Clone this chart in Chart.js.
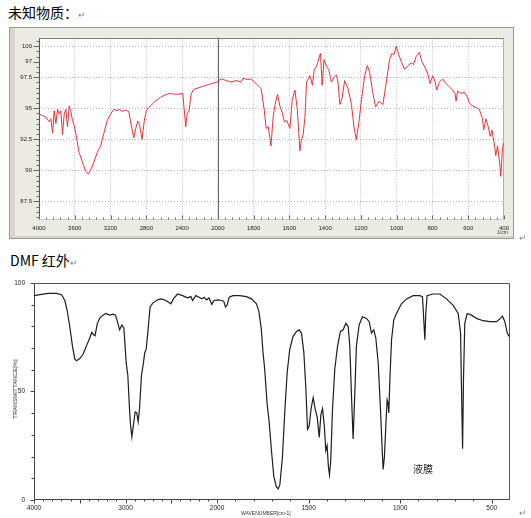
<!DOCTYPE html>
<html lang="zh">
<head>
<meta charset="UTF-8">
<script src="https://cdn.jsdelivr.net/npm/chart.js"></script>
<style>
    body {
        margin: 0;
        width: 531px;
        height: 518px;
        position: relative;
        background: #fff;
        overflow: hidden;
        font-family: "Noto Sans CJK SC", "Liberation Sans", sans-serif;
    }
    .abs { position: absolute; }
    .cap { font-size: 14px; color: #000; white-space: nowrap; line-height: 1; }
    .ret { color: #888; font-size: 9px; }
    .frame {
        left: 9px; top: 27px; width: 505px; height: 212px;
        box-sizing: border-box;
        border: 1px solid #9a9a9a;
        background: #ecebe3;
        box-shadow: inset 5px 0 0 #d7d4cb, inset 0 -2px 0 #d7d4cb;
    }
    .tiny { font-family: "Liberation Sans", sans-serif; font-size: 5px; color: #333; white-space: nowrap; line-height: 1; }
</style>
</head>
<body>
<div class="abs cap" style="left:8px; top:5px;">未知物质：<span class="ret">↵</span></div>
<div class="abs frame"></div>
<canvas id="topChart" class="abs" width="505" height="212" style="left:9px; top:27px;"></canvas>
<div class="abs tiny" style="left:497px; top:230px;">1/cm</div>
<div class="abs ret" style="left:519px; top:231px;">↵</div>

<div class="abs cap" style="left:10px; top:253px;">DMF 红外<span class="ret">↵</span></div>
<canvas id="dmfChart" class="abs" width="531" height="248" style="left:0; top:270px;"></canvas>
<div class="abs tiny" style="left:15px; top:389px; font-size:6px; transform: translate(-50%, -50%) rotate(-90deg);">TRANSMITTANCE[%]</div>
<div class="abs tiny" style="left:241px; top:511px;">WAVENUMBER[cm-1]</div>
<div class="abs" style="left:413px; top:461px; font-size:10px; color:#222;">液膜</div>
<div class="abs ret" style="left:519px; top:506px;">↵</div>

<script>
// ---- unknown sample (red trace) ----
const topWavenumbers = [
    4000, 3959, 3922, 3885, 3867, 3848, 3830, 3811, 3793, 3774,
    3756, 3737, 3718, 3700, 3681, 3663, 3644, 3626, 3607, 3589,
    3570, 3552, 3515, 3478, 3448, 3422, 3385, 3348, 3311, 3274,
    3237, 3200, 3163, 3126, 3107, 3070, 3033, 2996, 2978, 2941,
    2922, 2896, 2874, 2848, 2822, 2800, 2774, 2737, 2700, 2644,
    2589, 2533, 2496, 2441, 2392, 2378, 2359, 2344, 2322, 2300,
    2274, 2218, 2163, 2107, 2033, 2000, 1981, 1953, 1925, 1898,
    1870, 1860, 1832, 1814, 1795, 1777, 1758, 1740, 1730, 1718,
    1703, 1690, 1680, 1666, 1653, 1640, 1628, 1615, 1597, 1584,
    1569, 1556, 1541, 1532, 1523, 1513, 1504, 1485, 1471, 1461,
    1448, 1435, 1426, 1417, 1406, 1393, 1380, 1365, 1350, 1337,
    1328, 1318, 1305, 1291, 1272, 1253, 1239, 1226, 1212, 1198,
    1179, 1164, 1151, 1133, 1118, 1099, 1077, 1058, 1040, 1027,
    1016, 1003, 988, 975, 956, 938, 919, 906, 891, 873,
    860, 841, 826, 813, 798, 785, 776, 761, 743, 724,
    706, 687, 674, 668, 659, 641, 622, 607, 594, 576,
    557, 538, 520, 514, 501, 488, 477, 468, 455, 446,
    436, 423, 418, 408, 403
];
const topTransmittance = [
    94.54, 94.41, 94.28, 93.90, 94.15, 93.00, 94.80, 93.77, 94.93, 94.54,
    94.80, 92.87, 94.54, 94.93, 93.51, 95.18, 94.80, 94.03, 93.64, 93.00,
    92.22, 91.45, 90.68, 89.91, 89.70, 90.04, 90.68, 91.45, 91.97, 93.00,
    94.03, 94.54, 94.93, 94.80, 94.93, 94.75, 94.85, 94.75, 94.03, 92.61,
    93.25, 93.97, 93.64, 92.48, 94.03, 94.80, 95.06, 95.31, 95.57, 95.88,
    96.09, 96.21, 96.14, 96.14, 96.19, 95.06, 93.51, 94.54, 94.80, 96.09,
    96.52, 96.65, 96.78, 96.91, 97.06, 97.17, 97.37, 97.24, 97.11, 97.24,
    97.11, 97.42, 97.32, 97.37, 97.11, 96.86, 96.60, 94.80, 93.38, 93.51,
    91.97, 94.41, 95.31, 96.14, 95.18, 94.67, 93.90, 94.03, 93.38, 95.70,
    96.47, 94.93, 91.58, 92.48, 92.87, 94.28, 97.11, 97.63, 96.86, 98.14,
    98.40, 99.05, 99.43, 96.86, 98.92, 98.40, 98.14, 97.11, 97.50, 97.68,
    97.11, 95.31, 95.83, 97.24, 96.60, 95.31, 93.51, 92.48, 93.77, 95.57,
    97.63, 98.45, 97.89, 96.21, 95.11, 95.57, 95.31, 97.11, 98.92, 99.43,
    99.30, 100.00, 99.30, 98.79, 98.14, 98.40, 98.66, 98.53, 99.17, 99.51,
    98.79, 98.27, 97.76, 96.99, 97.63, 97.11, 96.47, 97.11, 97.37, 96.99,
    96.73, 96.47, 96.21, 95.57, 96.39, 96.21, 96.29, 95.96, 95.44, 95.18,
    95.06, 94.93, 94.15, 93.25, 94.15, 93.51, 92.74, 93.25, 92.22, 91.19,
    91.97, 90.42, 89.52, 91.84, 92.22
];
const topXTicks = [4000, 3600, 3200, 2800, 2400, 2000, 1800, 1600, 1400, 1200, 1000, 800, 600, 400];
const topYTicks = [100, 98.75, 97.5, 95, 92.5, 90, 87.5];
const topYLabels = ['100', '97', '97.5', '95', '92.5', '90', '87.5'];

// ---- DMF (black trace) ----
const dmfWavenumbers = [
    4000, 3935, 3844, 3754, 3699, 3663, 3638, 3609, 3580, 3554,
    3536, 3500, 3464, 3428, 3391, 3370, 3348, 3333, 3308, 3283,
    3246, 3217, 3174, 3138, 3109, 3083, 3065, 3040, 3018, 2993,
    2975, 2957, 2946, 2931, 2913, 2895, 2877, 2862, 2848, 2826,
    2804, 2790, 2775, 2754, 2732, 2703, 2649, 2612, 2558, 2504,
    2478, 2431, 2377, 2323, 2286, 2268, 2232, 2196, 2167, 2141,
    2116, 2087, 2058, 2033, 1995, 1976, 1964, 1954, 1945, 1934,
    1913, 1876, 1840, 1812, 1785, 1771, 1758, 1749, 1740, 1727,
    1716, 1703, 1690, 1676, 1666, 1657, 1643, 1630, 1617, 1603,
    1585, 1566, 1552, 1539, 1526, 1515, 1506, 1497, 1486, 1475,
    1464, 1453, 1442, 1433, 1424, 1415, 1406, 1399, 1392, 1386,
    1379, 1370, 1357, 1342, 1326, 1311, 1297, 1284, 1275, 1266,
    1257, 1248, 1239, 1224, 1206, 1184, 1169, 1157, 1144, 1133,
    1120, 1107, 1098, 1093, 1086, 1078, 1071, 1066, 1062, 1056,
    1047, 1035, 1020, 993, 965, 929, 893, 878, 871, 865,
    860, 853, 820, 783, 747, 710, 683, 670, 665, 659,
    654, 647, 634, 610, 583, 547, 510, 474, 452, 441,
    428, 415, 405
];
const dmfTransmittance = [
    94.14, 94.59, 95.20, 95.20, 94.59, 91.89, 87.39, 79.88, 70.87, 64.86,
    64.11, 65.17, 67.12, 70.87, 74.62, 77.18, 76.13, 75.68, 81.38, 83.63,
    85.14, 85.89, 85.14, 85.59, 85.14, 81.38, 78.38, 80.63, 79.13, 63.36,
    57.36, 42.34, 34.83, 29.13, 34.83, 40.54, 40.09, 36.04, 41.59, 57.36,
    63.36, 67.87, 69.37, 78.38, 88.89, 90.69, 92.19, 92.64, 91.89, 90.39,
    92.64, 94.89, 94.14, 93.09, 93.69, 91.89, 94.14, 93.39, 92.64, 93.39,
    92.19, 93.09, 90.09, 91.89, 92.19, 91.89, 91.59, 88.89, 89.79, 93.39,
    94.14, 94.14, 93.69, 92.64, 90.39, 86.64, 78.38, 67.87, 60.36, 44.59,
    36.34, 22.82, 10.81, 6.01, 5.11, 7.06, 19.82, 40.84, 58.86, 69.37,
    75.38, 77.63, 78.38, 76.88, 67.87, 51.35, 32.58, 34.08, 42.34, 47.15,
    41.89, 38.14, 28.83, 39.34, 42.04, 34.83, 22.82, 25.08, 15.32, 11.56,
    18.32, 40.84, 60.36, 70.87, 77.63, 78.38, 81.38, 79.88, 70.87, 48.35,
    28.08, 48.35, 70.87, 80.63, 84.38, 83.63, 82.13, 76.88, 78.38, 74.62,
    63.36, 40.84, 22.82, 14.11, 19.82, 34.83, 46.10, 44.59, 40.09, 55.86,
    73.87, 82.88, 85.89, 90.39, 92.64, 94.14, 94.14, 93.69, 82.88, 73.87,
    85.89, 94.14, 94.89, 94.89, 92.64, 89.64, 85.89, 76.88, 51.35, 23.57,
    55.86, 81.38, 85.89, 85.14, 83.63, 82.58, 82.13, 82.13, 83.63, 84.68,
    82.13, 76.88, 75.38
];
const dmfXTicks = [4000, 3000, 2000, 1500, 1000, 500];
const dmfYTicks = [0, 50, 100];

// Wavenumber axis whose scale halves below 2000 cm-1, like the instrument plots
class BrokenAxis extends Chart.LinearScale {
    static id = 'brokenAxis';
    static defaults = Chart.LinearScale.defaults;

    decimalOf(v) {
        const b = this.options.breakAt, f = this.options.breakFrac;
        if (v >= b) return (this.max - v) / (this.max - b) * f;
        return f + (b - v) / (b - this.min) * (1 - f);
    }
    getPixelForValue(v) {
        if (v === null || v === undefined) return NaN;
        return this.getPixelForDecimal(this.decimalOf(v));
    }
    getValueForPixel(p) {
        const d = this.getDecimalForPixel(p);
        const b = this.options.breakAt, f = this.options.breakFrac;
        if (d <= f) return this.max - d / f * (this.max - b);
        return b - (d - f) / (1 - f) * (b - this.min);
    }
}
Chart.register(BrokenAxis);

// plot background, frame, break line and tick marks
function makeDecor(o) {
    return {
        id: 'decor',
        beforeDraw(chart) {
            const { ctx, chartArea: a } = chart;
            ctx.save();
            ctx.fillStyle = '#fff';
            ctx.fillRect(a.left, a.top, a.right - a.left, a.bottom - a.top);
            ctx.restore();
        },
        beforeDatasetsDraw(chart) {
            const { ctx, chartArea: a, scales } = chart;
            ctx.save();
            ctx.lineWidth = 1;
            if (o.breakAt) {
                const px = Math.round(scales.x.getPixelForValue(o.breakAt)) + 0.5;
                ctx.strokeStyle = o.breakColor;
                ctx.beginPath(); ctx.moveTo(px, a.top); ctx.lineTo(px, a.bottom); ctx.stroke();
            }
            const l = Math.round(a.left) + 0.5, r = Math.round(a.right) - 0.5;
            const t = Math.round(a.top) + 0.5, btm = Math.round(a.bottom) - 0.5;
            const seg = (c, x1, y1, x2, y2) => {
                ctx.strokeStyle = c;
                ctx.beginPath(); ctx.moveTo(x1, y1); ctx.lineTo(x2, y2); ctx.stroke();
            };
            seg(o.topColor, l, t, r, t);
            seg(o.sideColor, r, t, r, btm);
            seg(o.bottomColor, l, btm, r, btm);
            seg(o.axisColor, l, t, l, btm);
            ctx.restore();
        },
        afterDraw(chart) {
            const { ctx, chartArea: a, scales } = chart;
            ctx.save();
            ctx.lineWidth = 1;
            ctx.strokeStyle = o.tickColor;
            const btm = Math.round(a.bottom) - 0.5;
            o.xMarks.forEach(([v, len]) => {
                const px = Math.round(scales.x.getPixelForValue(v)) + 0.5;
                ctx.beginPath(); ctx.moveTo(px, btm); ctx.lineTo(px, btm + o.xDir * len); ctx.stroke();
            });
            const l = Math.round(a.left) + 0.5;
            o.yMarks.forEach(([v, len]) => {
                const py = Math.round(scales.y.getPixelForValue(v)) + 0.5;
                ctx.beginPath(); ctx.moveTo(l, py); ctx.lineTo(l - len, py); ctx.stroke();
            });
            ctx.restore();
        }
    };
}

const subdivide = (ticks, n) => {
    const out = [];
    for (let i = 0; i < ticks.length - 1; i++) {
        for (let k = 1; k < n; k++) out.push(ticks[i] + (ticks[i + 1] - ticks[i]) * k / n);
    }
    return out;
};

const tickFont = { family: 'Liberation Sans', size: 6 };

// ---------- top chart ----------
const topYMinor = [];
for (let k = -1; 100 - k * 2.5 / 6 > 86; k++) topYMinor.push(100 - k * 2.5 / 6);

new Chart(document.getElementById('topChart'), {
    type: 'line',
    data: {
        datasets: [{
            data: topWavenumbers.map((w, i) => ({ x: w, y: topTransmittance[i] })),
            borderColor: '#e8343c',
            borderWidth: 1,
            pointRadius: 0,
            tension: 0
        }]
    },
    options: {
        responsive: false,
        animation: false,
        layout: { padding: { top: 3, right: 8, left: 0, bottom: 0 } },
        plugins: { legend: { display: false }, tooltip: { enabled: false } },
        scales: {
            x: {
                type: 'brokenAxis',
                min: 400, max: 4000,
                breakAt: 2000, breakFrac: 5 / 13,
                afterBuildTicks: s => { s.ticks = topXTicks.map(v => ({ value: v })); },
                afterFit: s => { s.height = 19; },
                ticks: { autoSkip: false, maxRotation: 0, padding: 5, font: tickFont, color: '#222',
                         callback: v => String(v) },
                grid: { color: '#b8b8b8', drawTicks: false },
                border: { display: false, dash: [1, 2] }
            },
            y: {
                min: 86, max: 100.7,
                afterBuildTicks: s => { s.ticks = topYTicks.map(v => ({ value: v })); },
                afterFit: s => { s.width = 30; },
                ticks: { padding: 7, font: tickFont, color: '#222',
                         callback: v => topYLabels[topYTicks.indexOf(v)] },
                grid: { color: c => c.tick && c.tick.value === 98.75 ? 'rgba(0,0,0,0)' : '#b8b8b8', drawTicks: false },
                border: { display: false, dash: [1, 2] }
            }
        }
    },
    plugins: [makeDecor({
        breakAt: 2000, breakColor: '#666',
        topColor: '#777', sideColor: '#b0b0b0', bottomColor: '#c8c8c8', axisColor: '#555',
        tickColor: '#666',
        xDir: -1,
        xMarks: topXTicks.map(v => [v, 4]).concat(subdivide(topXTicks, 5).map(v => [v, 2])),
        yMarks: topYTicks.map(v => [v, 6]).concat(topYMinor.map(v => [v, 3]))
    })]
});

// ---------- DMF chart ----------
const dmfXMinor = [];
for (let w = 3900; w > 400; w -= 100) if (!dmfXTicks.includes(w)) dmfXMinor.push(w);
const dmfYMinor = [];
for (let v = 10; v < 100; v += 10) if (!dmfYTicks.includes(v)) dmfYMinor.push(v);

new Chart(document.getElementById('dmfChart'), {
    type: 'line',
    data: {
        datasets: [{
            data: dmfWavenumbers.map((w, i) => ({ x: w, y: dmfTransmittance[i] })),
            borderColor: '#1e1e1e',
            borderWidth: 1.2,
            pointRadius: 0,
            tension: 0
        }]
    },
    options: {
        responsive: false,
        animation: false,
        layout: { padding: { top: 8, right: 21, left: 0, bottom: 0 } },
        plugins: { legend: { display: false }, tooltip: { enabled: false } },
        scales: {
            x: {
                type: 'brokenAxis',
                min: 400, max: 4000,
                breakAt: 2000, breakFrac: 5 / 13,
                afterBuildTicks: s => { s.ticks = dmfXTicks.map(v => ({ value: v })); },
                afterFit: s => { s.height = 18; },
                ticks: { autoSkip: false, maxRotation: 0, padding: 4, font: { family: 'Liberation Sans', size: 6.5 },
                         color: '#222', callback: v => String(v) },
                grid: { display: false, drawTicks: false },
                border: { display: false }
            },
            y: {
                min: 0, max: 100,
                afterBuildTicks: s => { s.ticks = dmfYTicks.map(v => ({ value: v })); },
                afterFit: s => { s.width = 34; },
                ticks: { padding: 9, font: { family: 'Liberation Sans', size: 6.5 }, color: '#222' },
                grid: { display: false, drawTicks: false },
                border: { display: false }
            }
        }
    },
    plugins: [makeDecor({
        breakAt: null,
        topColor: '#555', sideColor: '#555', bottomColor: '#444', axisColor: '#444',
        tickColor: '#444',
        xDir: 1,
        xMarks: dmfXTicks.map(v => [v, 4]).concat(dmfXMinor.map(v => [v, v % 500 === 0 ? 4 : 2])),
        yMarks: dmfYTicks.map(v => [v, 4]).concat(dmfYMinor.map(v => [v, 3]))
    })]
});
</script>
</body>
</html>
